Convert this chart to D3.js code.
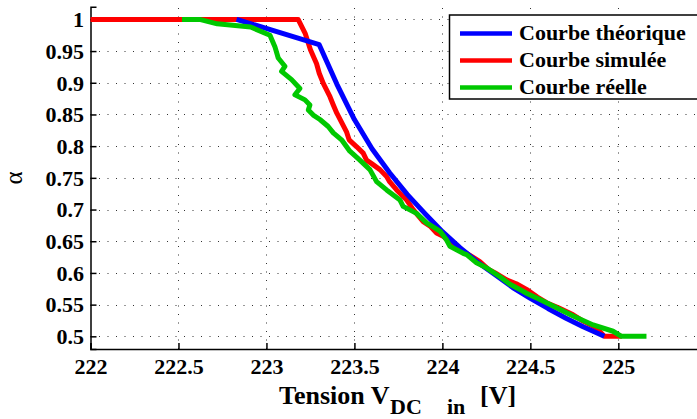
<!DOCTYPE html>
<html>
<head>
<meta charset="utf-8">
<script src="https://cdn.jsdelivr.net/npm/d3@7"></script>
<style>
  body { margin: 0; background: #fff; }
  svg { display: block; }
  .tick text { font-family: "Liberation Serif", "Times New Roman", serif; font-weight: bold; font-size: 22px; }
</style>
</head>
<body>
<div class="container"></div>
<script>
var xTicks = [222, 222.5, 223, 223.5, 224, 224.5, 225];
var yTicks = [0.5, 0.55, 0.6, 0.65, 0.7, 0.75, 0.8, 0.85, 0.9, 0.95, 1];
var seriesNames = ['Courbe théorique', 'Courbe simulée', 'Courbe réelle'];

var theoV = [222.83, 223.3, 223.4, 223.5, 223.6, 223.7, 223.8, 223.9, 224.0, 224.1, 224.2, 224.3, 224.4, 224.5, 224.6, 224.7, 224.8, 224.92];
var theoA = [1.0, 0.96, 0.898, 0.842, 0.796, 0.758, 0.724, 0.694, 0.665, 0.640, 0.617, 0.597, 0.577, 0.560, 0.544, 0.529, 0.515, 0.500];

var simV = [222.0, 223.18, 223.22, 223.25, 223.285, 223.30, 223.323, 223.361, 223.38, 223.40, 223.456, 223.47, 223.513, 223.55, 223.569, 223.60, 223.645, 223.683, 223.70, 223.74, 223.797, 223.834, 223.891, 223.93, 223.967, 224.01, 224.043, 224.09, 224.138, 224.213, 224.26, 224.30, 224.365, 224.42, 224.478, 224.54, 224.592, 224.66, 224.743, 224.80, 224.876, 224.92, 225.02];
var simA = [1.0, 1.0, 0.978, 0.952, 0.93, 0.915, 0.899, 0.878, 0.865, 0.852, 0.822, 0.81, 0.799, 0.789, 0.778, 0.772, 0.763, 0.752, 0.744, 0.731, 0.715, 0.700, 0.681, 0.674, 0.663, 0.657, 0.647, 0.638, 0.631, 0.618, 0.606, 0.600, 0.589, 0.583, 0.574, 0.562, 0.553, 0.545, 0.534, 0.524, 0.513, 0.5, 0.5];

var realV = [222.52, 222.62, 222.72, 222.91, 223.02, 223.048, 223.067, 223.105, 223.086, 223.143, 223.19, 223.162, 223.219, 223.247, 223.238, 223.266, 223.304, 223.351, 223.38, 223.427, 223.474, 223.531, 223.588, 223.626, 223.683, 223.759, 223.777, 223.853, 223.91, 223.986, 224.024, 224.043, 224.118, 224.138, 224.194, 224.251, 224.327, 224.384, 224.44, 224.478, 224.554, 224.649, 224.743, 224.857, 224.97, 225.018, 225.16];
var realA = [1.0, 1.0, 0.993, 0.988, 0.975, 0.957, 0.939, 0.926, 0.918, 0.905, 0.891, 0.881, 0.873, 0.865, 0.857, 0.849, 0.842, 0.831, 0.821, 0.81, 0.792, 0.778, 0.763, 0.744, 0.731, 0.715, 0.705, 0.694, 0.679, 0.666, 0.652, 0.642, 0.631, 0.629, 0.616, 0.608, 0.594, 0.582, 0.574, 0.568, 0.558, 0.545, 0.532, 0.518, 0.508, 0.5, 0.5];

buildChart();

function buildChart() {

  /* ===== SET UP CHART =====*/

  var w = 697;
  var h = 419;
  var font = '"Liberation Serif", "Times New Roman", serif';

  var svg = d3.select('.container')
    .append('svg')
    .attr('width', w)
    .attr('height', h);

  // axis runs on past the right edge of the picture (225.5 is cropped)
  var xScale = d3.scaleLinear()
    .domain([222, 225.5])
    .range([90.5, 706.3]);

  var yScale = d3.scaleLinear()
    .domain([0.48, 1.02])
    .range([349, 6.7]);

  /* ===== GRID =====*/

  svg.append('g').selectAll('line')
    .data(xTicks.slice(1))
    .enter()
    .append('line')
    .attr('x1', function(d) { return Math.round(xScale(d)) + 0.5; })
    .attr('x2', function(d) { return Math.round(xScale(d)) + 0.5; })
    .attr('y1', yScale.range()[0])
    .attr('y2', yScale.range()[1])
    .attr('stroke', '#333')
    .attr('stroke-width', 1)
    .attr('stroke-dasharray', '1,7.5');

  svg.append('g').selectAll('line')
    .data(yTicks)
    .enter()
    .append('line')
    .attr('y1', function(d) { return Math.round(yScale(d)) + 0.5; })
    .attr('y2', function(d) { return Math.round(yScale(d)) + 0.5; })
    .attr('x1', xScale.range()[0])
    .attr('x2', xScale.range()[1])
    .attr('stroke', '#333')
    .attr('stroke-width', 1)
    .attr('stroke-dasharray', '1,7.5');

  /* ===== AXES =====*/

  var xAxis = d3.axisBottom(xScale)
    .tickValues(xTicks)
    .tickSize(-6)
    .tickPadding(25)
    .tickFormat(d3.format('~g'));

  var yAxis = d3.axisLeft(yScale)
    .tickValues(yTicks)
    .tickSize(-6)
    .tickPadding(6.5)
    .tickFormat(d3.format('~g'));

  var gx = svg.append('g')
    .attr('transform', 'translate(0,' + yScale.range()[0] + ')')
    .call(xAxis);

  var gy = svg.append('g')
    .attr('transform', 'translate(' + xScale.range()[0] + ',0)')
    .call(yAxis);

  [gx, gy].forEach(function(g) {
    g.attr('font-family', font)
      .attr('font-size', 22)
      .attr('font-weight', 'bold');
    g.select('.domain').attr('stroke', '#000').attr('stroke-width', 1.5);
    g.selectAll('.tick line').attr('stroke', '#000').attr('stroke-width', 1.5);
    g.selectAll('.tick text').attr('fill', '#000');
  });
  gx.selectAll('.tick text').attr('dy', 0);
  gy.selectAll('.tick text').attr('dy', '0.33em');

  /* ===== CURVES =====*/

  var line = d3.line()
    .x(function(d) { return xScale(d[0]); })
    .y(function(d) { return yScale(d[1]); });

  var curves = [
    { v: simV, a: simA, color: '#ff0000' },
    { v: theoV, a: theoA, color: '#0000ff' },
    { v: realV, a: realA, color: '#00c800' }
  ];

  curves.forEach(function(c) {
    svg.append('path')
      .datum(d3.zip(c.v, c.a))
      .attr('d', line)
      .attr('fill', 'none')
      .attr('stroke', c.color)
      .attr('stroke-width', 5)
      .attr('stroke-linejoin', 'round')
      .attr('stroke-linecap', 'butt');
  });

  /* ===== LEGEND =====*/

  var legendColors = ['#0000ff', '#ff0000', '#00c800'];

  var legend = svg.append('g');

  legend.append('rect')
    .attr('x', 449.5)
    .attr('y', 15)
    .attr('width', 280)
    .attr('height', 84)
    .attr('fill', '#fff')
    .attr('stroke', '#000')
    .attr('stroke-width', 1.5);

  var items = legend.selectAll('g.item')
    .data(seriesNames)
    .enter()
    .append('g')
    .attr('class', 'item')
    .attr('transform', function(d, i) { return 'translate(0,' + (33.5 + i * 27) + ')'; });

  items.append('line')
    .attr('x1', 460)
    .attr('x2', 512)
    .attr('stroke', function(d, i) { return legendColors[i]; })
    .attr('stroke-width', 4.5);

  items.append('text')
    .attr('x', 519)
    .attr('y', 6.5)
    .text(function(d) { return d; })
    .attr('font-family', font)
    .attr('font-size', 22)
    .attr('font-weight', 'bold')
    .attr('fill', '#000');

  /* ===== AXIS TITLES =====*/

  var xt = svg.append('text')
    .attr('font-family', font)
    .attr('font-size', 26)
    .attr('font-weight', 'bold')
    .attr('fill', '#000');
  xt.append('tspan').attr('x', 279).attr('y', 404).text('Tension V');
  xt.append('tspan').attr('x', 390).attr('y', 414).attr('font-size', 22).text('DC');
  xt.append('tspan').attr('x', 447).attr('y', 414).attr('font-size', 22).text('in');
  xt.append('tspan').attr('x', 480).attr('y', 404).text('[V]');

  svg.append('text')
    .attr('transform', 'translate(22,178) rotate(-90)')
    .attr('text-anchor', 'middle')
    .attr('font-family', font)
    .attr('font-size', 25)
    .attr('fill', '#000')
    .text('α');
}
</script>
</body>
</html>
